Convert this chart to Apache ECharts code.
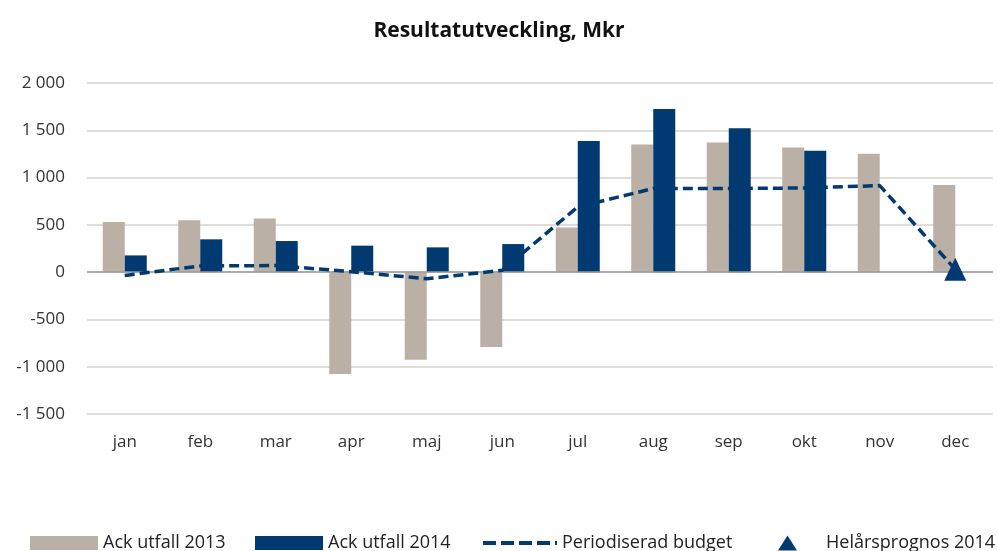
<!DOCTYPE html>
<html>
<head>
<meta charset="utf-8">
<script src="https://cdn.jsdelivr.net/npm/echarts@6/dist/echarts.min.js"></script>
<style>
  html, body { margin: 0; padding: 0; background: #fff; }
  #chart { width: 998px; height: 551px; }
</style>
</head>
<body>
<div id="chart"></div>
<script>
// data
var months = ['jan', 'feb', 'mar', 'apr', 'maj', 'jun', 'jul', 'aug', 'sep', 'okt', 'nov', 'dec']
var utfall2013 = [530, 548, 566, -1077, -926, -791, 471, 1351, 1372, 1319, 1251, 922]
var utfall2014 = [177, 347, 329, 280, 262, 297, 1386, 1725, 1521, 1283, null, null]
var budget = [-35, 65, 70, 5, -70, 20, 690, 884, 884, 890, 915, 30]
var prognos = [null, null, null, null, null, null, null, null, null, null, null, 30]

var beige = '#bab0a5'
var navy = '#003a70'
var font = 'Open Sans'

// 2 000 / -1 500 style
function fmt(v) {
    var s = String(Math.abs(v))
    if (s.length > 3) s = s.slice(0, s.length - 3) + ' ' + s.slice(s.length - 3)
    return (v < 0 ? '-' : '') + s
}

var legendText = { fontFamily: font, fontSize: 18, color: '#222' }

var myChart = echarts.init(document.getElementById('chart'))
var option = {
    animation: false,
    title: {
        text: 'Resultatutveckling, Mkr',
        left: 'center',
        top: 16,
        textStyle: { fontFamily: font, fontSize: 21, fontWeight: 'bold', color: '#111' }
    },
    legend: [
        { data: ['Ack utfall 2013'], left: 25, top: 529, icon: 'rect', itemWidth: 68, itemHeight: 14, textStyle: legendText },
        { data: ['Ack utfall 2014'], left: 250, top: 529, icon: 'rect', itemWidth: 68, itemHeight: 14, textStyle: legendText },
        { data: ['Periodiserad budget'], left: 476, top: 529, itemWidth: 74, itemHeight: 2,
          lineStyle: { width: 4, type: [13, 5] }, textStyle: legendText },
        { data: ['Helårsprognos 2014'], left: 773, top: 529, icon: 'triangle', itemWidth: 19, itemHeight: 15,
          textStyle: Object.assign({ padding: [0, 0, 0, 24] }, legendText) }
    ],
    grid: { left: 87, right: 5, top: 83, bottom: 137 },
    xAxis: {
        type: 'category',
        data: months,
        axisLine: { show: false, onZero: false },
        axisTick: { show: false },
        axisLabel: { margin: 20, fontFamily: font, fontSize: 17, color: '#333' }
    },
    yAxis: {
        type: 'value',
        min: -1500,
        max: 2000,
        interval: 500,
        axisLine: { show: false },
        axisTick: { show: false },
        axisLabel: { margin: 22, fontFamily: font, fontSize: 17, color: '#333', formatter: fmt },
        splitLine: { lineStyle: { color: '#e0ddd8', width: 2 } }
    },
    series: [
        {
            name: 'Ack utfall 2013',
            type: 'bar',
            data: utfall2013,
            barWidth: 22,
            barGap: '0%',
            itemStyle: { color: beige },
            markLine: {
                silent: true,
                symbol: 'none',
                label: { show: false },
                lineStyle: { color: '#9a9a9a', width: 1.5, type: 'solid' },
                data: [{ yAxis: 0 }]
            }
        },
        {
            name: 'Ack utfall 2014',
            type: 'bar',
            data: utfall2014,
            barWidth: 22,
            itemStyle: { color: navy }
        },
        {
            name: 'Periodiserad budget',
            type: 'line',
            data: budget,
            symbol: 'none',
            z: 5,
            itemStyle: { color: navy },
            lineStyle: { color: navy, width: 3.5, type: [10, 5] }
        },
        {
            name: 'Helårsprognos 2014',
            type: 'scatter',
            data: prognos,
            symbol: 'triangle',
            symbolSize: [22, 23],
            z: 6,
            itemStyle: { color: navy, opacity: 1 }
        }
    ]
}
myChart.setOption(option)
</script>
</body>
</html>
